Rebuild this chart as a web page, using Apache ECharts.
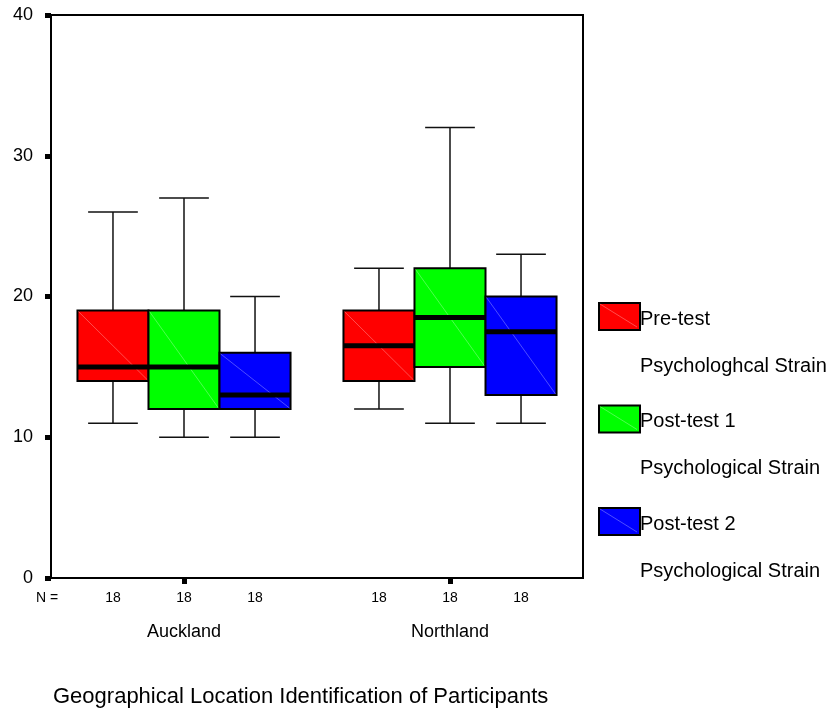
<!DOCTYPE html>
<html>
<head>
<meta charset="utf-8">
<script src="https://cdn.jsdelivr.net/npm/echarts@6/dist/echarts.min.js"></script>
<style>
html, body { margin: 0; padding: 0; background: #fff; }
#chart { width: 833px; height: 711px; }
</style>
</head>
<body>
<div id="chart"></div>
<script>
var regions = ["Auckland", "Northland"]
var seriesNames = ["Pre-test", "Post-test 1", "Post-test 2"]
var seriesSubNames = ["Psychologhcal Strain", "Psychological Strain", "Psychological Strain"]
var colors = ["#ff0000", "#00ff00", "#0000ff"]
// [min, q1, median, q3, max] per region
var preTest = [[11, 14, 15, 19, 26], [12, 14, 16.5, 19, 22]]
var postTest1 = [[10, 12, 15, 19, 27], [11, 15, 18.5, 22, 32]]
var postTest2 = [[10, 12, 13, 16, 20], [11, 13, 17.5, 20, 23]]
var counts = [[18, 18], [18, 18], [18, 18]]
var yTicks = [0, 10, 20, 30, 40]

var font = "'Liberation Sans', Arial, sans-serif"
var boxFrac = 0.267

var allData = [preTest, postTest1, postTest2]

function makeRender(idx) {
    return function (params, api) {
        var cat = api.value(0)
        var band = api.size([1, 1], [cat, 0])[0]
        var w = band * boxFrac
        var cx = api.coord([cat, 0])[0] + (idx - 1) * w
        var y0 = api.coord([cat, 0])[1]
        var yMin = api.coord([cat, api.value(1)])[1]
        var yQ1 = api.coord([cat, api.value(2)])[1]
        var yMed = api.coord([cat, api.value(3)])[1]
        var yQ3 = api.coord([cat, api.value(4)])[1]
        var yMax = api.coord([cat, api.value(5)])[1]
        var left = cx - w / 2
        var cap = w * 0.35
        var wl = { stroke: "#111", lineWidth: 1.5 }
        return {
            type: "group",
            children: [
                { type: "line", shape: { x1: cx, y1: yMax, x2: cx, y2: yQ3 }, style: wl },
                { type: "line", shape: { x1: cx - cap, y1: yMax, x2: cx + cap, y2: yMax }, style: wl },
                { type: "line", shape: { x1: cx, y1: yQ1, x2: cx, y2: yMin }, style: wl },
                { type: "line", shape: { x1: cx - cap, y1: yMin, x2: cx + cap, y2: yMin }, style: wl },
                { type: "rect", shape: { x: left, y: yQ3, width: w, height: yQ1 - yQ3 },
                  style: { fill: colors[idx], stroke: "#000", lineWidth: 2 } },
                { type: "line", shape: { x1: left + 1, y1: yQ3 + 1, x2: left + w - 1, y2: yQ1 - 1 },
                  style: { stroke: "rgba(255,255,255,0.3)", lineWidth: 1 } },
                { type: "line", shape: { x1: left, y1: yMed, x2: left + w, y2: yMed },
                  style: { stroke: "#000", lineWidth: 5 } },
                { type: "text", x: cx, y: y0 + 20,
                  style: { text: String(api.value(6)), fill: "#000", font: "14px " + font,
                           align: "center", verticalAlign: "middle" } }
            ]
        }
    }
}

var series = allData.map(function (d, idx) {
    return {
        type: "custom",
        name: seriesNames[idx],
        renderItem: makeRender(idx),
        encode: { x: 0, y: [1, 2, 3, 4, 5] },
        data: d.map(function (v, i) { return [i].concat(v).concat([counts[idx][i]]) }),
        clip: false,
        z: 3
    }
})

var legendGraphics = []
seriesNames.forEach(function (name, i) {
    var top = 302 + i * 102.5
    legendGraphics.push({ type: "rect", left: 598, top: top, shape: { width: 41, height: 27 },
        style: { fill: colors[i], stroke: "#000", lineWidth: 2 } })
    legendGraphics.push({ type: "line", shape: { x1: 600, y1: top + 2, x2: 637, y2: top + 25 },
        style: { stroke: "rgba(255,255,255,0.3)", lineWidth: 1 } })
    legendGraphics.push({ type: "text", left: 640, top: top + 7,
        style: { text: name, fill: "#000", font: "20px " + font } })
    legendGraphics.push({ type: "text", left: 640, top: top + 54,
        style: { text: seriesSubNames[i], fill: "#000", font: "20px " + font } })
})
legendGraphics.push({ type: "text", left: 36, top: 591,
    style: { text: "N =", fill: "#000", font: "14px " + font } })

var chart = echarts.init(document.getElementById("chart"))
chart.setOption({
    animation: false,
    backgroundColor: "#fff",
    title: {
        text: "Geographical Location Identification of Participants",
        left: 53, top: 686,
        padding: 0,
        textStyle: { fontSize: 22, fontWeight: "normal", color: "#000", fontFamily: font }
    },
    grid: { left: 51, top: 15, right: 250, bottom: 133, show: true, borderColor: "#000", borderWidth: 2 },
    xAxis: {
        type: "category",
        data: regions,
        axisLine: { lineStyle: { color: "#000", width: 2 } },
        axisTick: { show: true, alignWithLabel: true, length: 6, lineStyle: { color: "#000", width: 5 } },
        axisLabel: { margin: 45, fontSize: 18, color: "#000", fontFamily: font },
        splitLine: { show: false }
    },
    yAxis: {
        type: "value",
        min: yTicks[0], max: yTicks[yTicks.length - 1], interval: 10,
        axisLine: { show: true, lineStyle: { color: "#000", width: 2 } },
        axisTick: { show: true, length: 6, lineStyle: { color: "#000", width: 5 } },
        axisLabel: { margin: 18, fontSize: 18, color: "#000", fontFamily: font },
        splitLine: { show: false }
    },
    series: series,
    graphic: legendGraphics
})
</script>
</body>
</html>
